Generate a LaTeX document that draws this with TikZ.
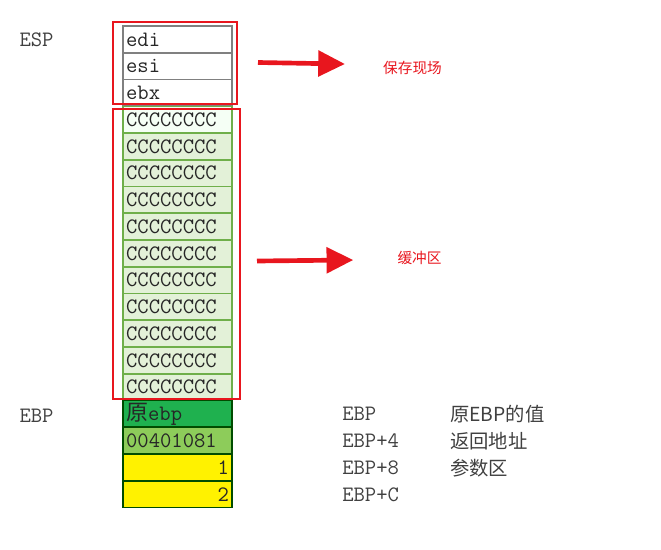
\documentclass[tikz,border=0pt]{standalone}
\usepackage{fontspec}
\newfontfamily\cjk{Noto Sans CJK SC}
\usetikzlibrary{arrows.meta,positioning,calc}
\definecolor{memred}{HTML}{E8161E}
\definecolor{bufgreen}{HTML}{E3F1D8}
\definecolor{bufline}{HTML}{6FAF4A}
\definecolor{ebpgreen}{HTML}{1FB14F}
\definecolor{retgreen}{HTML}{8DCC5A}
\tikzset{
  cell/.style={line width=1.2pt,outer sep=0pt,minimum width=81.75pt,minimum height=20pt,
    inner xsep=2pt,inner ysep=0pt,text width=77pt,align=left,text=black!85,
    font=\ttfamily\fontsize{16.5}{17}\selectfont},
  reg/.style={cell,draw=gray,fill=white},
  buf/.style={cell,draw=bufline,fill=bufgreen},
  frame/.style={cell,draw=black!70!green},
  lbl/.style={text=black!75,font=\ttfamily\fontsize{16.5}{17}\selectfont,inner sep=0pt},
  note/.style={text=black!75,font=\cjk\fontsize{14.5}{15}\selectfont,inner sep=0pt,anchor=west},
  redbox/.style={draw=memred,line width=1.5pt},
  redlbl/.style={text=memred,font=\cjk\fontsize{11}{12}\selectfont,inner sep=0pt},
  bigarrow/.style={memred,line width=3.5pt,-{Triangle[length=20pt,width=19pt]}}
}
\begin{document}
\begin{tikzpicture}[x=.75pt,y=-.75pt]
\useasboundingbox (0,0) rectangle (661,550);
% saved registers
\foreach \r [count=\i from 0] in {edi,esi,ebx}
  \node[reg] (\r) at (177.5,{39.4+26.75*\i}) {\r};
% buffer
\foreach \i in {1,...,11}
  \node[buf] (c\i) at (177.5,{39.4+26.75*(\i+2)}) {CCCCCCCC};
\node[buf,fill=green!4] at (c1) {CCCCCCCC};
% frame
\node[frame,fill=ebpgreen] (oldebp) at (177.5,{39.4+26.75*14}) {{\cjk 原}ebp};
\node[frame,fill=retgreen] (ret) at (177.5,{39.4+26.75*15}) {00401081};
\node[frame,fill=yellow,align=right] (arg1) at (177.5,{39.4+26.75*16}) {1};
\node[frame,fill=yellow,align=right] (arg2) at (177.5,{39.4+26.75*17}) {2};
% pointers
\node[lbl] (esp) at (36.5,40) {ESP};
\node[lbl] (ebp) at (36.5,416) {EBP};
\foreach \t/\n [count=\i from 0] in {EBP/o0,EBP+4/o4,EBP+8/o8,EBP+C/oc}
  \node[lbl,anchor=west] (\n) at (342,{414+27*\i}) {\t};
\node[note] (n0) at (450,414) {原EBP的值};
\node[note] (n4) at (450,441) {返回地址};
\node[note] (n8) at (450,468) {参数区};
% boxes and arrows
\draw[redbox] ($(edi.north west)+(-10,-4)$) rectangle ($(ebx.south east)+(5,-2)$);
\draw[redbox] ($(c1.north west)+(-10,3)$) rectangle ($(c11.south east)+(8,-1.5)$);
\node[redlbl] (save) at (412.5,68) {保存现场};
\node[redlbl] (bufl) at (419.5,258) {缓冲区};
\coordinate (s1) at (258,62.5);
\coordinate (s2) at (257,261);
\draw[bigarrow] (s1) -- ($(save.west)+(-38,-4)$);
\draw[bigarrow] (s2) -- ($(bufl.west)+(-44,2)$);
\end{tikzpicture}
\end{document}
